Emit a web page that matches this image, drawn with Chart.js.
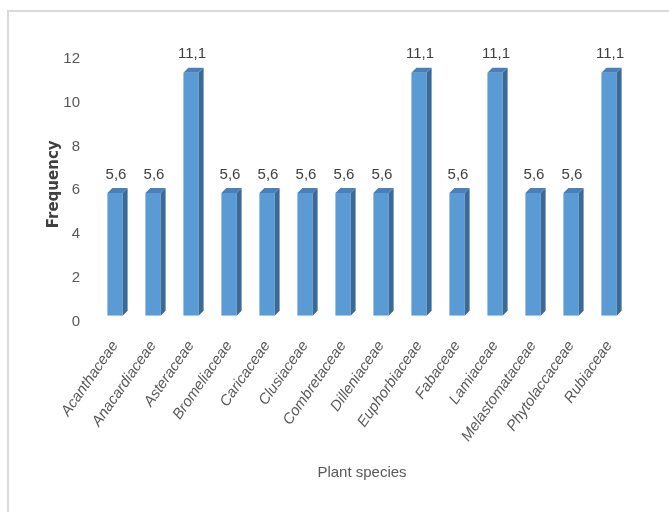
<!DOCTYPE html>
<html>
<head>
<meta charset="utf-8">
<script src="https://cdn.jsdelivr.net/npm/chart.js@4.4.1/dist/chart.umd.min.js"></script>
<style>
  html, body { margin: 0; padding: 0; background: #fff; }
  body { width: 669px; height: 512px; overflow: hidden; position: relative; }
  .frame {
    position: absolute; left: 7px; top: 10px; width: 662px; height: 502px;
    border-top: 2px solid #d9d9d9; border-left: 2px solid #d9d9d9;
    box-sizing: border-box;
  }
  .frame canvas { display: block; }
</style>
</head>
<body>
<div class="frame"><canvas id="speciesChart" width="660" height="500"></canvas></div>
<script>
// data
const families = ["Acanthaceae", "Anacardiaceae", "Asteraceae", "Bromeliaceae", "Caricaceae",
  "Clusiaceae", "Combretaceae", "Dilleniaceae", "Euphorbiaceae", "Fabaceae", "Lamiaceae",
  "Melastomataceae", "Phytolaccaceae", "Rubiaceae"];
const frequency = [5.6, 5.6, 11.1, 5.6, 5.6, 5.6, 5.6, 5.6, 11.1, 5.6, 11.1, 5.6, 5.6, 11.1];
const yTicks = [0, 2, 4, 6, 8, 10, 12];

const sans = "'Liberation Sans', Arial, sans-serif";

// fake excel-style 3d: side face + top cap on each bar, plus value labels
const bar3d = {
  id: "bar3d",
  afterDatasetsDraw(chart) {
    const ctx = chart.ctx;
    const meta = chart.getDatasetMeta(0);
    const d = 5;
    ctx.save();
    meta.data.forEach((bar, i) => {
      const w = bar.width;
      const left = bar.x - w / 2;
      const right = bar.x + w / 2;
      // side
      ctx.fillStyle = "#3c6a98";
      ctx.beginPath();
      ctx.moveTo(right, bar.y);
      ctx.lineTo(right + d, bar.y - d);
      ctx.lineTo(right + d, bar.base - d);
      ctx.lineTo(right, bar.base);
      ctx.closePath();
      ctx.fill();
      // top
      ctx.fillStyle = "#4a80ba";
      ctx.beginPath();
      ctx.moveTo(left, bar.y);
      ctx.lineTo(left + d, bar.y - d);
      ctx.lineTo(right + d, bar.y - d);
      ctx.lineTo(right, bar.y);
      ctx.closePath();
      ctx.fill();
      // label
      ctx.fillStyle = "#404040";
      ctx.font = "15px " + sans;
      ctx.textAlign = "center";
      ctx.textBaseline = "bottom";
      ctx.fillText(String(frequency[i]).replace(".", ","), bar.x + 1, bar.y - d - 6);
    });
    ctx.restore();
  }
};

const ctx = document.getElementById("speciesChart").getContext("2d");
new Chart(ctx, {
  type: "bar",
  data: {
    labels: families,
    datasets: [{
      data: frequency,
      backgroundColor: "#5b9bd5",
      borderWidth: 0,
      barPercentage: 0.4,
      categoryPercentage: 1
    }]
  },
  options: {
    responsive: false,
    animation: false,
    events: [],
    layout: { padding: { left: 36, right: 41, top: 41, bottom: 30 } },
    plugins: {
      legend: { display: false },
      tooltip: { enabled: false }
    },
    scales: {
      x: {
        grid: { display: false },
        border: { display: false },
        ticks: {
          color: "#595959",
          font: { family: sans, size: 15, style: "italic" },
          minRotation: 55,
          maxRotation: 55,
          autoSkip: false,
          padding: 14
        },
        title: {
          display: true,
          text: "Plant species",
          color: "#595959",
          font: { family: sans, size: 15 },
          padding: { top: 5, bottom: 0 }
        }
      },
      y: {
        min: 0,
        max: 12,
        grid: { display: false },
        border: { display: false },
        afterBuildTicks(axis) {
          axis.ticks = yTicks.map(v => ({ value: v }));
        },
        afterFit(axis) {
          axis.width = 51;
        },
        ticks: {
          color: "#595959",
          font: { family: sans, size: 15 },
          padding: 8,
          labelOffset: 6
        },
        title: {
          display: true,
          text: "Frequency",
          color: "#404040",
          font: { family: "'DejaVu Sans', sans-serif", size: 15, weight: "bold" },
          padding: { top: 0, bottom: 0 }
        }
      }
    }
  },
  plugins: [bar3d]
});
</script>
</body>
</html>
